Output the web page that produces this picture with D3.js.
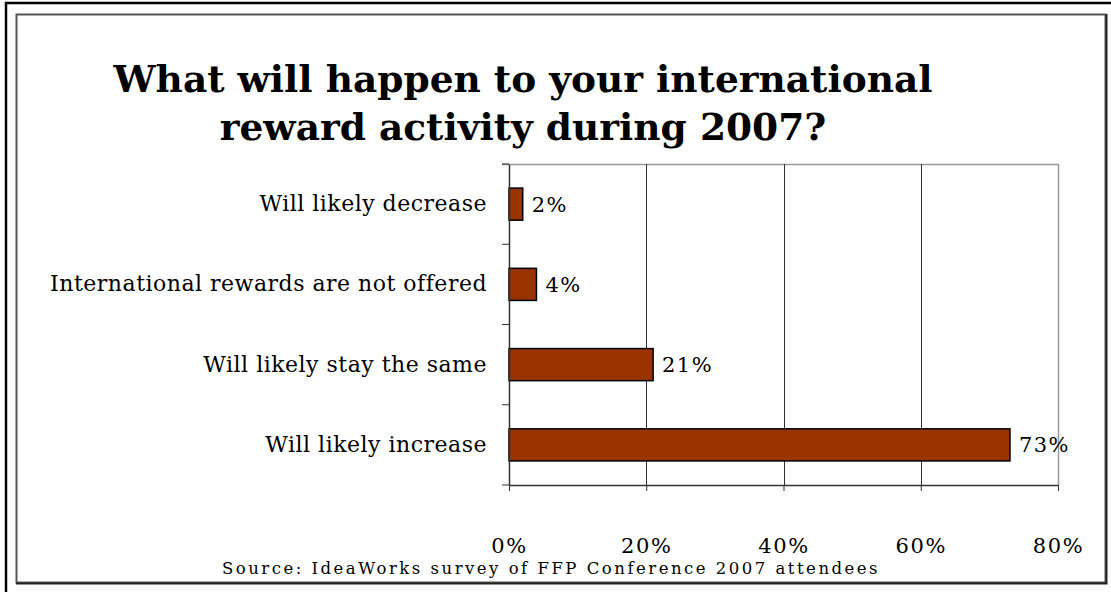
<!DOCTYPE html>
<html lang="en">
  <head>
    <meta charset="UTF-8" />
    <title>International reward activity 2007</title>
    <style>
      body { margin: 0; background: #fff; }
      text { font-family: "DejaVu Serif", Georgia, serif; fill: #000; }
    </style>
  </head>
  <body>
    <svg id="svg" width="1111" height="592"></svg>

    <script src="https://cdn.jsdelivr.net/npm/d3@7"></script>
    <script>
      const categories = [
        "Will likely decrease",
        "International rewards are not offered",
        "Will likely stay the same",
        "Will likely increase",
      ];
      const values = [2, 4, 21, 73];
      const xTicks = [0, 20, 40, 60, 80];
      const titleLines = [
        "What will happen to your international",
        "reward activity during 2007?",
      ];
      const source = "Source:  IdeaWorks survey of FFP Conference 2007 attendees";

      const svg = d3.select("#svg");
      const plotL = 509, plotR = 1058, plotT = 164, plotB = 485;

      // outer frame (runs off the right / bottom edge)
      svg.append("path")
        .attr("d", "M6,592 V3 H1111")
        .attr("fill", "none")
        .attr("stroke", "#000")
        .attr("stroke-width", 2.5);

      // inner panel
      svg.append("rect")
        .attr("x", 16.5).attr("y", 14.5)
        .attr("width", 1089).attr("height", 568)
        .attr("fill", "#fff")
        .attr("stroke", "#555")
        .attr("stroke-width", 2);
      svg.append("path")
        .attr("d", "M16,583.5 H1106.5 V14")
        .attr("fill", "none")
        .attr("stroke", "#222")
        .attr("stroke-width", 2);

      const x = d3.scaleLinear().domain([0, 80]).range([plotL, plotR]);
      const y = d3.scaleBand().domain(categories).range([plotT, plotB])
        .paddingInner(0.6).paddingOuter(0.3);
      const yBand = d3.scaleBand().domain(categories).range([plotT, plotB]);

      // plot area border (top/right gray)
      svg.append("path")
        .attr("d", `M${plotL - 7},${plotT + 0.5} H${plotR + 0.5} V${plotB}`)
        .attr("fill", "none")
        .attr("stroke", "#999")
        .attr("stroke-width", 1.5);

      // gridlines
      svg.append("g")
        .selectAll("line")
        .data(xTicks.slice(1, -1))
        .join("line")
        .attr("x1", (d) => Math.round(x(d)) + 0.5)
        .attr("x2", (d) => Math.round(x(d)) + 0.5)
        .attr("y1", plotT)
        .attr("y2", plotB)
        .attr("stroke", "#333")
        .attr("stroke-width", 1);

      // bars
      svg.append("g")
        .selectAll("rect")
        .data(values)
        .join("rect")
        .attr("x", x(0))
        .attr("y", (d, i) => y(categories[i]))
        .attr("width", (d) => x(d) - x(0))
        .attr("height", y.bandwidth())
        .attr("fill", "#993300")
        .attr("stroke", "#000")
        .attr("stroke-width", 1.5);

      // value labels
      svg.append("g")
        .selectAll("text")
        .data(values)
        .join("text")
        .attr("x", (d) => x(d) + 9)
        .attr("y", (d, i) => y(categories[i]) + y.bandwidth() / 2)
        .attr("dy", "0.36em")
        .attr("font-size", 21)
        .attr("letter-spacing", 1.4)
        .text((d) => d + "%");

      // y axis
      const yAxis = svg.append("g")
        .attr("transform", `translate(${plotL},0)`)
        .call(d3.axisLeft(yBand).tickSize(0).tickPadding(22));
      yAxis.select(".domain").attr("stroke", "#333").attr("stroke-width", 1.5);
      yAxis.selectAll("text")
        .attr("font-size", 22)
        .attr("letter-spacing", 0.5)
        .attr("font-family", "DejaVu Serif, serif");
      // boundary ticks between categories
      yAxis.append("g")
        .selectAll("line")
        .data(d3.range(categories.length + 1))
        .join("line")
        .attr("x1", -7).attr("x2", 0)
        .attr("y1", (d) => plotT + d * yBand.step())
        .attr("y2", (d) => plotT + d * yBand.step())
        .attr("stroke", "#333");

      // x axis
      const xAxis = svg.append("g")
        .attr("transform", `translate(0,${plotB})`)
        .call(d3.axisBottom(x).tickValues(xTicks).tickFormat((d) => d + "%").tickSize(6).tickPadding(62).tickSizeOuter(0));
      xAxis.select(".domain").attr("stroke", "#333").attr("stroke-width", 1.5);
      xAxis.selectAll(".tick line").attr("stroke", "#333");
      xAxis.selectAll("text")
        .attr("font-size", 21)
        .attr("letter-spacing", 1.6)
        .attr("font-family", "DejaVu Serif, serif")
        .attr("dy", "0");

      // title
      svg.append("text")
        .attr("text-anchor", "middle")
        .attr("font-size", 37.5)
        .attr("font-weight", "bold")
        .selectAll("tspan")
        .data(titleLines)
        .join("tspan")
        .attr("x", 523)
        .attr("y", (d, i) => 92 + i * 48)
        .text((d) => d);

      // source
      svg.append("text")
        .attr("x", 551)
        .attr("y", 574)
        .attr("text-anchor", "middle")
        .attr("font-size", 16.5)
        .attr("letter-spacing", 2.5)
        .text(source);
    </script>
  </body>
</html>
